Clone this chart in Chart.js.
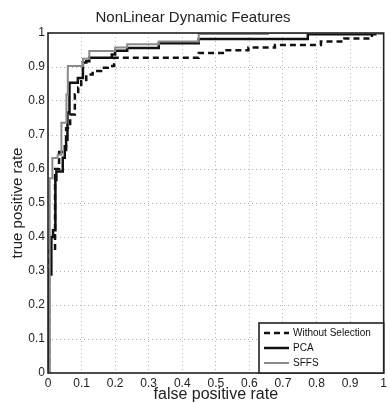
<!DOCTYPE html>
<html>
<head>
<meta charset="utf-8">
<script src="https://cdn.jsdelivr.net/npm/chart.js@4"></script>
<style>
  body { margin: 0; background: #fff; }
  #wrap { width: 390px; height: 403px; }
</style>
</head>
<body>
<div id="wrap"><canvas id="rocChart" width="390" height="403"></canvas></div>
<script>
// ROC curves (false positive rate / true positive rate corners)
const noSelFpr = [0, 0.003, 0.003, 0.021, 0.021, 0.033, 0.033, 0.054, 0.054, 0.066, 0.066, 0.08, 0.08, 0.09, 0.09, 0.099, 0.099, 0.114, 0.114, 0.133, 0.133, 0.158, 0.158, 0.178, 0.178, 0.197, 0.197, 0.449, 0.449, 0.528, 0.528, 0.597, 0.597, 0.676, 0.676, 0.813, 0.813, 0.883, 0.883, 0.965, 0.965, 1];
const noSelTpr = [0, 0, 0.36, 0.36, 0.60, 0.60, 0.65, 0.65, 0.72, 0.72, 0.76, 0.76, 0.82, 0.82, 0.84, 0.84, 0.858, 0.858, 0.878, 0.878, 0.888, 0.888, 0.898, 0.898, 0.903, 0.903, 0.927, 0.927, 0.941, 0.941, 0.949, 0.949, 0.957, 0.957, 0.965, 0.965, 0.975, 0.975, 0.984, 0.984, 1, 1];

const pcaFpr = [0, 0.003, 0.003, 0.01, 0.01, 0.015, 0.015, 0.022, 0.022, 0.025, 0.025, 0.044, 0.044, 0.05, 0.05, 0.054, 0.054, 0.058, 0.058, 0.064, 0.064, 0.089, 0.089, 0.104, 0.104, 0.114, 0.114, 0.123, 0.123, 0.19, 0.19, 0.2, 0.2, 0.236, 0.236, 0.33, 0.33, 0.449, 0.449, 0.774, 0.774, 0.975, 0.975, 1];
const pcaTpr = [0, 0, 0.29, 0.29, 0.40, 0.40, 0.42, 0.42, 0.568, 0.568, 0.593, 0.593, 0.633, 0.633, 0.667, 0.667, 0.686, 0.686, 0.766, 0.766, 0.854, 0.854, 0.868, 0.868, 0.913, 0.913, 0.917, 0.917, 0.927, 0.927, 0.937, 0.937, 0.948, 0.948, 0.956, 0.956, 0.970, 0.970, 0.982, 0.982, 0.996, 0.996, 1, 1];

const sffsFpr = [0, 0.005, 0.005, 0.013, 0.013, 0.029, 0.029, 0.04, 0.04, 0.055, 0.055, 0.059, 0.059, 0.104, 0.104, 0.123, 0.123, 0.2, 0.2, 0.236, 0.236, 0.33, 0.33, 0.449, 0.449, 0.655, 0.655, 1];
const sffsTpr = [0, 0, 0.573, 0.573, 0.632, 0.632, 0.642, 0.642, 0.736, 0.736, 0.819, 0.819, 0.903, 0.903, 0.924, 0.924, 0.947, 0.947, 0.957, 0.957, 0.967, 0.967, 0.975, 0.975, 0.997, 0.997, 1, 1];

const tickLabels = ['0', '0.1', '0.2', '0.3', '0.4', '0.5', '0.6', '0.7', '0.8', '0.9', '1'];
const seriesNames = ['Without Selection', 'PCA', 'SFFS'];

function toPoints(xs, ys) {
  return xs.map((x, i) => ({ x: x, y: ys[i] }));
}

// black box round the plot + legend in the lower right corner
const boxAndLegend = {
  id: 'boxAndLegend',
  afterDatasetsDraw(chart) {
    const { ctx, chartArea: a } = chart;
    ctx.save();
    ctx.strokeStyle = '#222';
    ctx.lineWidth = 1.6;
    ctx.strokeRect(a.left, a.top, a.right - a.left, a.bottom - a.top);

    // legend
    const lx = 259, ly = 323, lw = a.right - 259, lh = a.bottom - 323;
    ctx.fillStyle = '#fff';
    ctx.fillRect(lx, ly, lw, lh);
    ctx.strokeRect(lx, ly, lw, lh);
    const rows = [333, 348, 363];
    ctx.font = '10px "Liberation Sans", Arial, sans-serif';
    ctx.textBaseline = 'middle';
    chart.data.datasets.forEach((ds, i) => {
      ctx.beginPath();
      ctx.strokeStyle = ds.borderColor;
      ctx.lineWidth = ds.borderWidth;
      ctx.setLineDash(ds.borderDash || []);
      ctx.moveTo(264, rows[i]);
      ctx.lineTo(289, rows[i]);
      ctx.stroke();
      ctx.setLineDash([]);
      ctx.fillStyle = '#111';
      ctx.fillText(ds.label, 293, rows[i]);
    });
    ctx.restore();
  }
};

const gridStyle = {
  color: '#b4b4b4',
  lineWidth: 1,
  drawTicks: false
};

new Chart(document.getElementById('rocChart').getContext('2d'), {
  type: 'scatter',
  data: {
    datasets: [
      {
        label: seriesNames[0],
        data: toPoints(noSelFpr, noSelTpr),
        borderColor: '#111',
        borderWidth: 2.5,
        borderDash: [6, 4],
        order: 3
      },
      {
        label: seriesNames[1],
        data: toPoints(pcaFpr, pcaTpr),
        borderColor: '#111',
        borderWidth: 2.5,
        order: 2
      },
      {
        label: seriesNames[2],
        data: toPoints(sffsFpr, sffsTpr),
        borderColor: '#8a8a8a',
        borderWidth: 2,
        order: 1
      }
    ]
  },
  options: {
    responsive: false,
    animation: false,
    devicePixelRatio: 1,
    showLine: true,
    elements: { point: { radius: 0 }, line: { tension: 0, fill: false } },
    layout: { padding: { left: 0, right: 4, top: 0, bottom: 0 } },
    plugins: {
      legend: { display: false },
      tooltip: { enabled: false },
      title: {
        display: true,
        text: 'NonLinear Dynamic Features',
        color: '#222',
        font: { family: '"Liberation Sans", Arial, sans-serif', size: 15, weight: 'normal' },
        padding: { top: 9, bottom: 6 }
      }
    },
    scales: {
      x: {
        type: 'linear',
        min: 0,
        max: 1,
        afterFit: (s) => { s.height = 30; },
        grid: gridStyle,
        border: { display: false, dash: [1, 3] },
        ticks: {
          stepSize: 0.1,
          padding: 3,
          color: '#222',
          font: { family: '"Liberation Sans", Arial, sans-serif', size: 12 },
          maxRotation: 0,
          callback: (v, i) => tickLabels[i]
        },
        title: {
          display: true,
          text: 'false positive rate',
          color: '#222',
          font: { family: '"Liberation Sans", Arial, sans-serif', size: 16, lineHeight: 1 },
          padding: { top: 0, bottom: 0 }
        }
      },
      y: {
        type: 'linear',
        min: 0,
        max: 1,
        afterFit: (s) => { s.width = 48; },
        grid: gridStyle,
        border: { display: false, dash: [1, 3] },
        ticks: {
          stepSize: 0.1,
          padding: 3,
          color: '#222',
          font: { family: '"Liberation Sans", Arial, sans-serif', size: 12 },
          callback: (v, i) => tickLabels[i]
        },
        title: {
          display: true,
          text: 'true positive rate',
          color: '#222',
          font: { family: '"Liberation Sans", Arial, sans-serif', size: 15 },
          padding: { top: 9, bottom: 0 }
        }
      }
    }
  },
  plugins: [boxAndLegend]
});
</script>
</body>
</html>
